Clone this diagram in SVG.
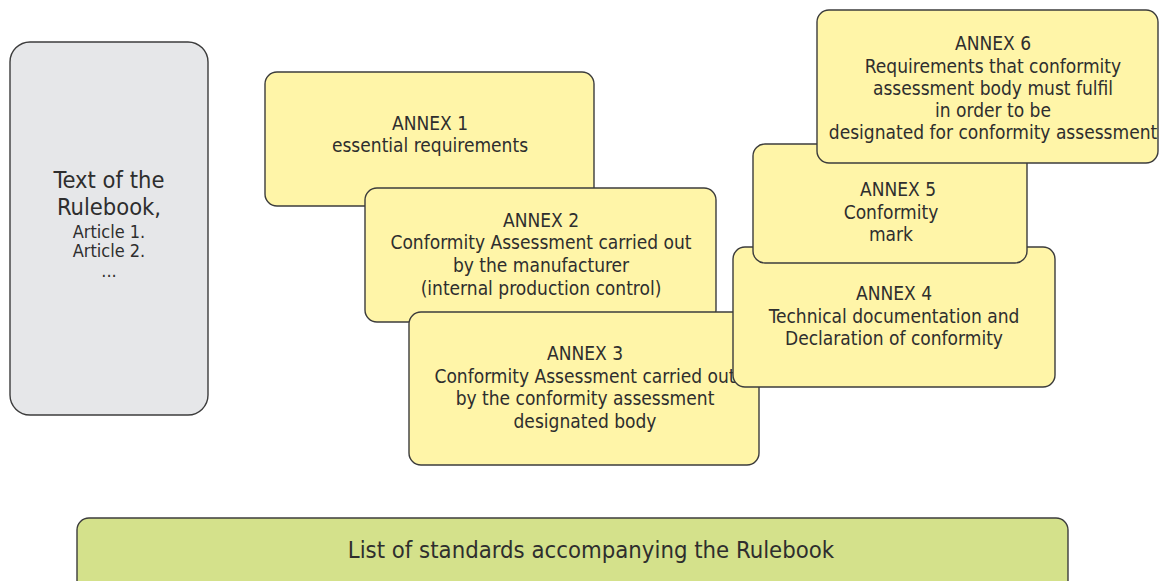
<svg xmlns="http://www.w3.org/2000/svg" width="1159" height="581" viewBox="0 0 1159 581">
<style>
.box{stroke:#3c3c3c;stroke-width:1.4}
.y{fill:#fff5a8}
.g{fill:#e6e7e9}
.gr{fill:#d4e18b}
text{font-family:"DejaVu Sans Condensed","DejaVu Sans",sans-serif;font-stretch:condensed;fill:#2e2e2e;text-anchor:middle}
.t{font-size:19px}
.big{font-size:23.7px}
.rb{font-size:23.5px}
.sm{font-size:18px}
</style>
<rect width="1159" height="581" fill="#fff"/>
<g id="rulebook">
<rect class="box g" x="10" y="42" width="198" height="373" rx="20"/>
<text class="rb" x="109" y="188">Text of the</text>
<text class="rb" x="109" y="215">Rulebook,</text>
<text class="sm" x="109" y="238">Article 1.</text>
<text class="sm" x="109" y="257">Article 2.</text>
<text class="sm" x="109" y="277">...</text>
</g>
<g id="annex1">
<rect class="box y" x="265" y="72" width="329" height="134" rx="12"/>
<text class="t" x="430" y="130">ANNEX 1</text>
<text class="t" x="430" y="152">essential requirements</text>
</g>
<g id="annex2">
<rect class="box y" x="365" y="188" width="351" height="134" rx="12"/>
<text class="t" x="541" y="227">ANNEX 2</text>
<text class="t" x="541" y="249">Conformity Assessment carried out</text>
<text class="t" x="541" y="272">by the manufacturer</text>
<text class="t" x="541" y="295">(internal production control)</text>
</g>
<g id="annex3">
<rect class="box y" x="409" y="312" width="350" height="153" rx="12"/>
<text class="t" x="585" y="360">ANNEX 3</text>
<text class="t" x="585" y="383">Conformity Assessment carried out</text>
<text class="t" x="585" y="405">by the conformity assessment</text>
<text class="t" x="585" y="428">designated body</text>
</g>
<g id="annex4">
<rect class="box y" x="733" y="247" width="322" height="140" rx="12"/>
<text class="t" x="894" y="300">ANNEX 4</text>
<text class="t" x="894" y="323">Technical documentation and</text>
<text class="t" x="894" y="345">Declaration of conformity</text>
</g>
<g id="annex5">
<rect class="box y" x="753" y="144" width="274" height="119" rx="12"/>
<text class="t" x="898" y="196">ANNEX 5</text>
<text class="t" x="891" y="219">Conformity</text>
<text class="t" x="891" y="241">mark</text>
</g>
<g id="annex6">
<rect class="box y" x="817" y="10" width="341" height="153" rx="12"/>
<text class="t" x="993" y="50">ANNEX 6</text>
<text class="t" x="993" y="73">Requirements that conformity</text>
<text class="t" x="993" y="95">assessment body must fulfil</text>
<text class="t" x="993" y="117">in order to be</text>
<text class="t" x="993" y="139">designated for conformity assessment</text>
</g>
<g id="standards">
<rect class="box gr" x="77" y="518" width="991" height="80" rx="12"/>
<text class="big" x="591" y="558">List of standards accompanying the Rulebook</text>
</g>
<g id="connectors"></g>
</svg>
